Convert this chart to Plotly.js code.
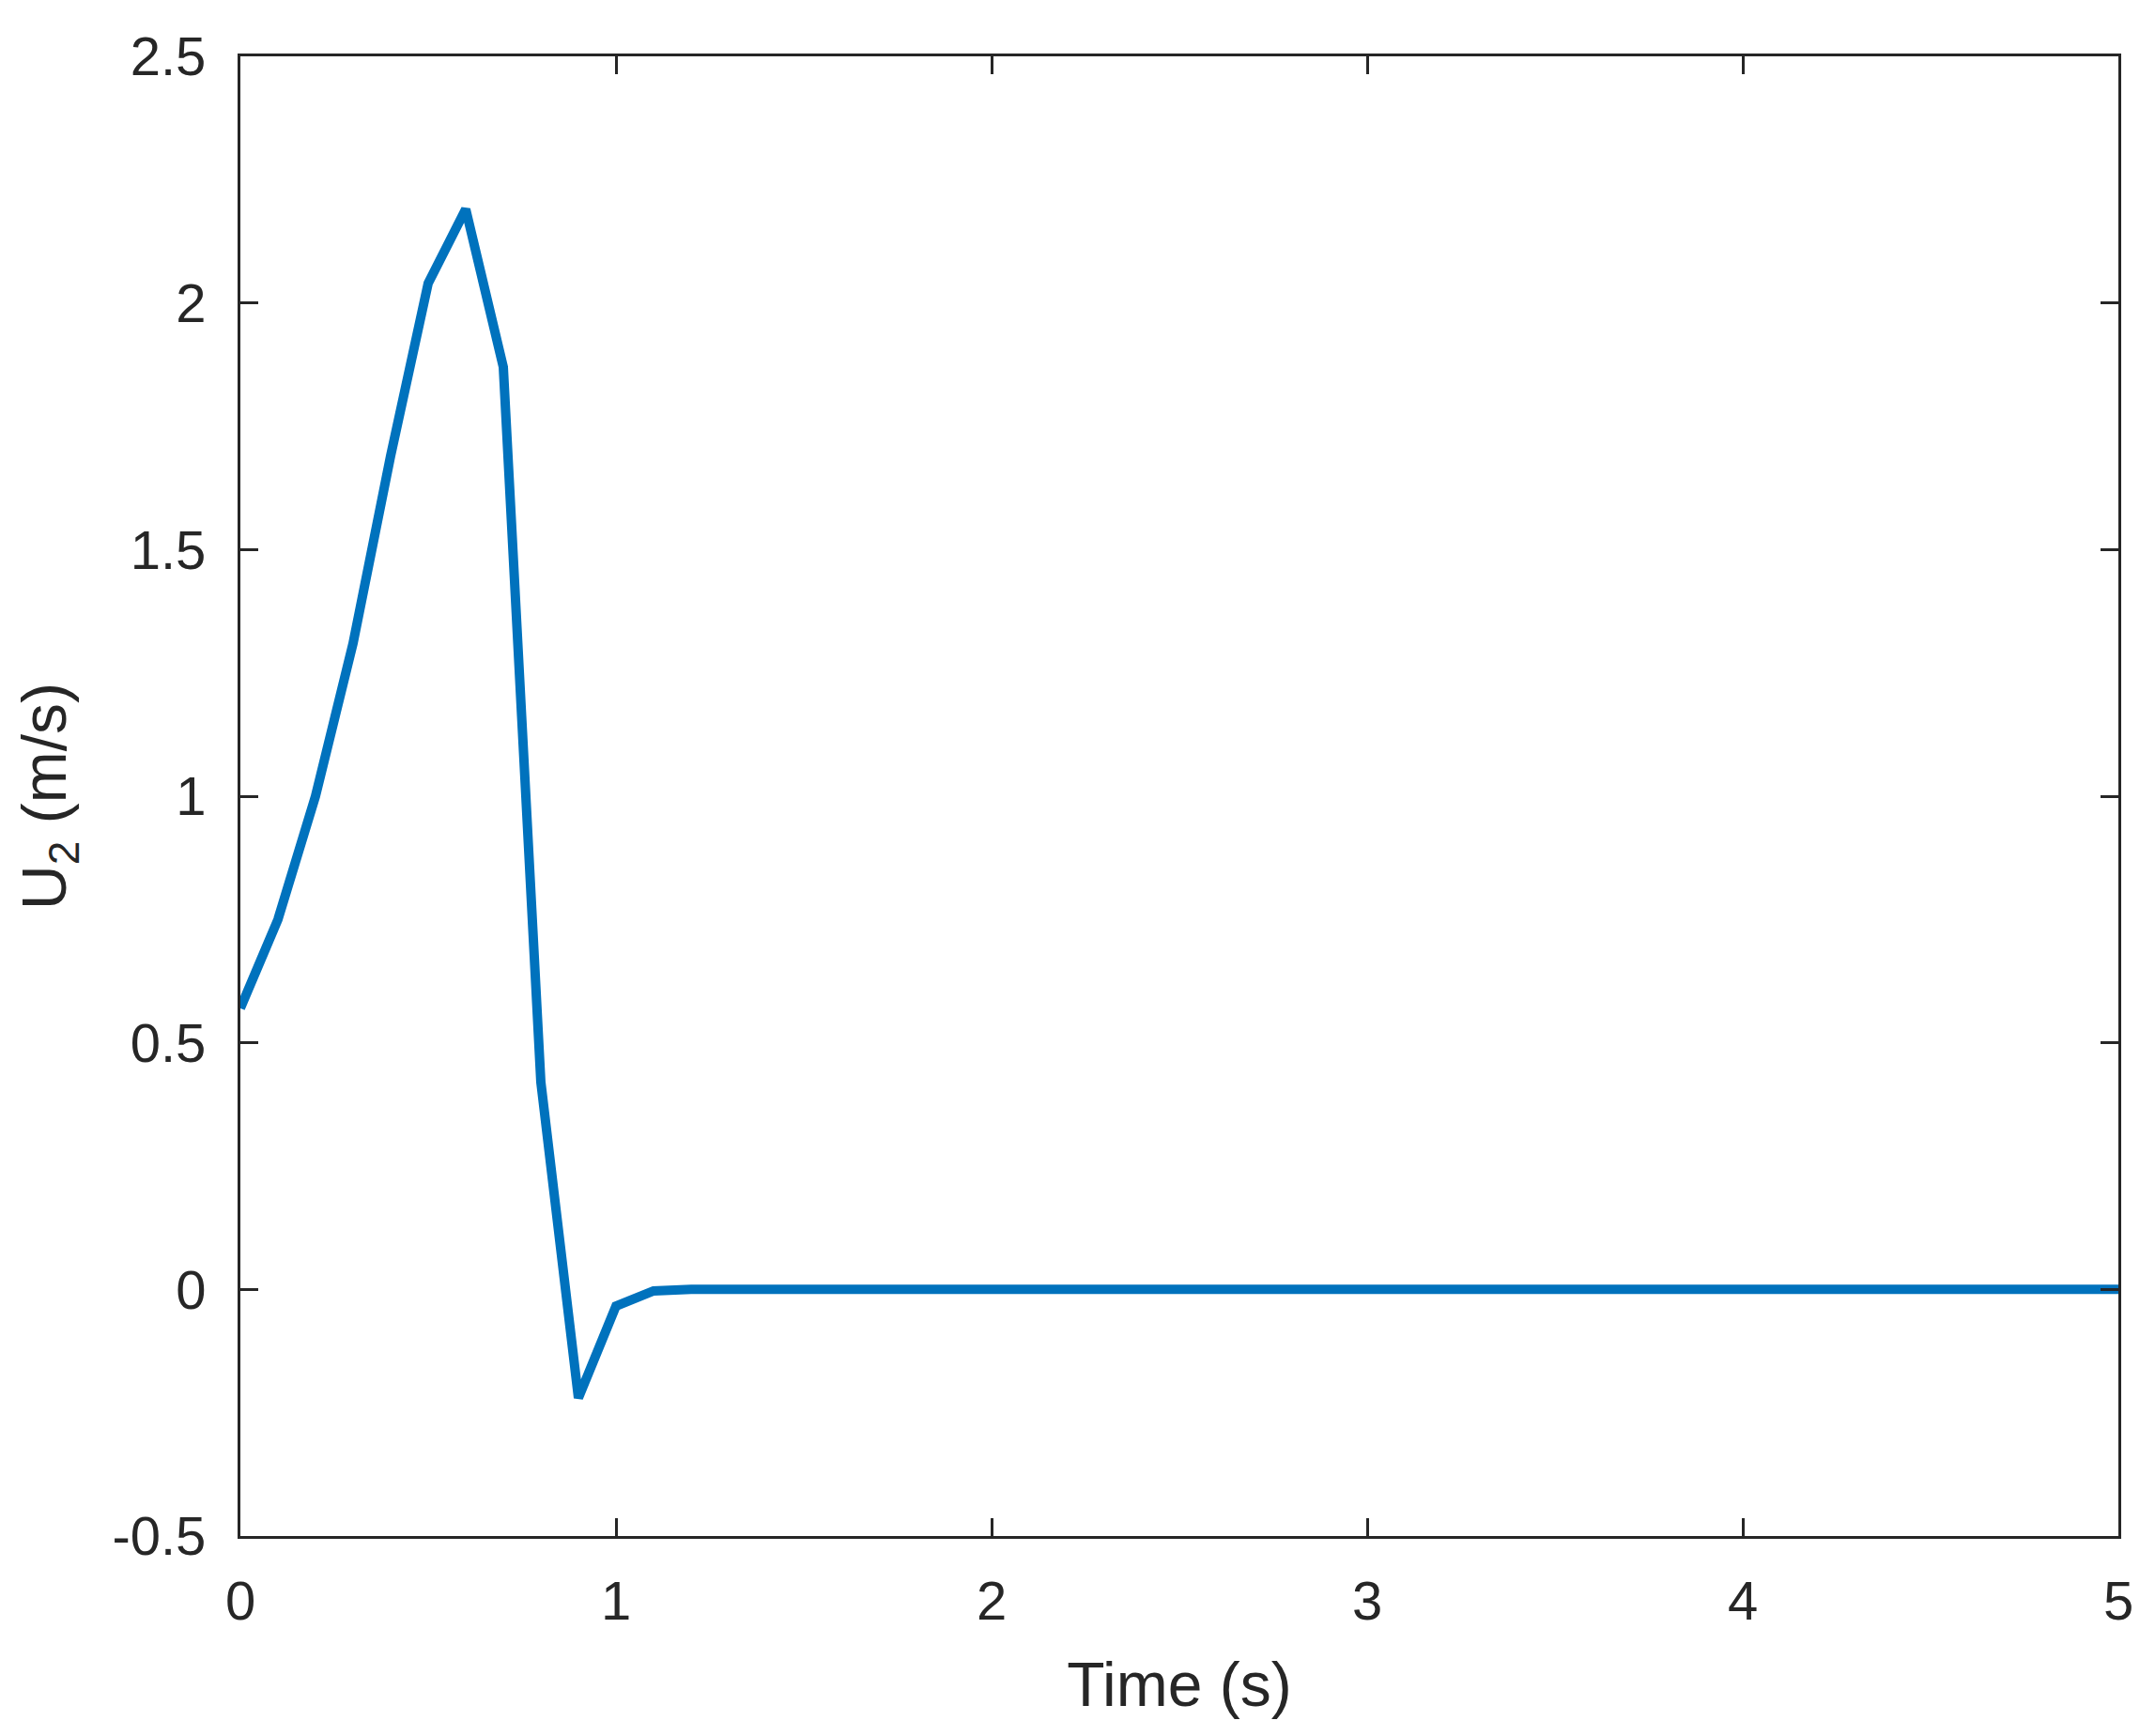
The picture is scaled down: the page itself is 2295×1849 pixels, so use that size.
<!DOCTYPE html>
<html>
<head>
<meta charset="utf-8">
<script src="https://cdn.plot.ly/plotly-3.0.1.min.js"></script>
<style>html,body{margin:0;padding:0;background:#fff;}#chart{width:2295px;height:1849px;}</style>
</head>
<body>
<div id="chart"></div>
<script>
// Time (s)
var time = [0.0,0.1,0.2,0.3,0.4,0.5,0.6,0.7,0.8,0.9,
            1.0,1.1,1.2,1.3,1.4,1.5,1.6,1.7,1.8,1.9,
            2.0,2.1,2.2,2.3,2.4,2.5,2.6,2.7,2.8,2.9,
            3.0,3.1,3.2,3.3,3.4,3.5,3.6,3.7,3.8,3.9,
            4.0,4.1,4.2,4.3,4.4,4.5,4.6,4.7,4.8,4.9,5.0];
// U2 (m/s)
var u2 = [0.57,0.75,1.00,1.31,1.69,2.04,2.19,1.87,0.42,-0.22,
          -0.034,-0.003,0,0,0,0,0,0,0,0,
          0,0,0,0,0,0,0,0,0,0,
          0,0,0,0,0,0,0,0,0,0,
          0,0,0,0,0,0,0,0,0,0,0];
var xTickVals = [0,1,2,3,4,5];
var xTickText = ["0","1","2","3","4","5"];
var yTickVals = [-0.5,0,0.5,1,1.5,2,2.5];
var yTickText = ["-0.5","0","0.5","1","1.5","2","2.5"];

var axisColor = '#262626';
var fontFam = '"Liberation Sans", Arial, Helvetica, sans-serif';

var trace = {
  x: time, y: u2, type: 'scatter', mode: 'lines',
  line: {color: '#0072BD', width: 10},
  hoverinfo: 'skip'
};

var common = {
  showgrid: false, zeroline: false,
  showline: true, linecolor: axisColor, linewidth: 3,
  mirror: 'ticks', ticks: 'inside', ticklen: 19, tickwidth: 3, tickcolor: axisColor,
  tickfont: {family: fontFam, size: 58, color: axisColor}
};

var layout = {
  width: 2295, height: 1849,
  margin: {l: 256, r: 39, t: 60, b: 213, pad: 0},
  paper_bgcolor: '#ffffff', plot_bgcolor: '#ffffff',
  showlegend: false,
  xaxis: Object.assign({}, common, {
    range: [0, 5], tickmode: 'array', tickvals: xTickVals, ticktext: xTickText,
    ticklabelstandoff: 16,
    title: {text: 'Time (s)', font: {family: fontFam, size: 66, color: axisColor}, standoff: 36}
  }),
  yaxis: Object.assign({}, common, {
    range: [-0.5, 2.5], tickmode: 'array', tickvals: yTickVals, ticktext: yTickText,
    ticklabelstandoff: 22,
    title: {text: 'U<sub>2</sub> (m/s)', font: {family: fontFam, size: 66, color: axisColor}, standoff: 28}
  })
};

Plotly.newPlot('chart', [trace], layout, {staticPlot: true, displayModeBar: false});
</script>
</body>
</html>
